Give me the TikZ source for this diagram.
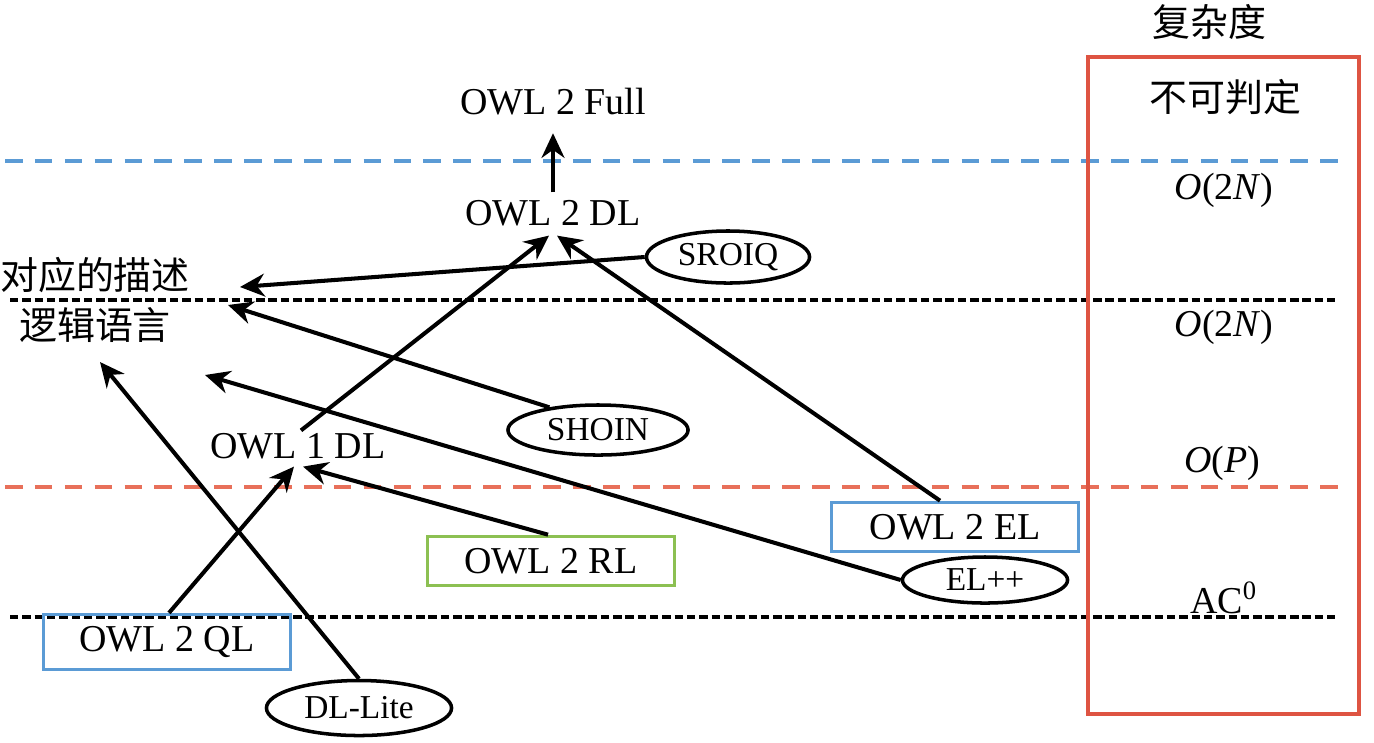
\documentclass[tikz,border=0pt]{standalone}
\usepackage{fontspec}
\setmainfont{Liberation Serif}
\newfontfamily\cjk{Noto Sans CJK SC}
\usetikzlibrary{arrows.meta,shapes.geometric}

\definecolor{lineblue}{RGB}{91,155,213}
\definecolor{linered}{RGB}{232,112,90}
\definecolor{boxred}{RGB}{222,84,66}
\definecolor{boxgreen}{RGB}{140,192,82}

\begin{document}
\begin{tikzpicture}[x=0.01cm, y=-0.01cm,
    txt/.style={font=\fontsize{10.8}{13}\selectfont, inner sep=2pt},
    zh/.style={font=\cjk\fontsize{10.8}{14}\selectfont, inner sep=0pt},
    oval/.style={draw, ellipse, line width=1pt, inner sep=0pt, font=\fontsize{9.5}{11}\selectfont},
    level/.style={draw, line width=1pt, minimum width=2.47cm, minimum height=0.48cm, font=\fontsize{10.8}{13}\selectfont},
    arr/.style={-{Stealth[length=7pt,width=6.5pt]}, line width=1.15pt}]
            \useasboundingbox (0, 0) rectangle (1374, 742);

            \draw[lineblue, line width=0.9pt, dash pattern=on 5pt off 3.5pt] (5, 161) -- (1340, 161);
            \draw[line width=1.1pt, dash pattern=on 2.4pt off 1.1pt] (10, 300) -- (1338, 300);
            \draw[linered, line width=0.9pt, dash pattern=on 5pt off 3.5pt] (5, 487) -- (1340, 487);
            \draw[line width=1.1pt, dash pattern=on 2.4pt off 1.1pt] (10, 617) -- (1338, 617);

            \draw[boxred, line width=1pt] (1088, 57) rectangle (1359, 714);
            \node[zh] (cplx) at (1209, 22) {复杂度};
            \node[zh] (undec) at (1225, 97) {不可判定};
            \node[txt] (c1) at (1224, 190) {\textit{O}(2\textit{N})};
            \node[txt] (c2) at (1224, 327) {\textit{O}(2\textit{N})};
            \node[txt] (c3) at (1222, 463) {\textit{O}(\textit{P})};
            \node[txt] (c4) at (1224, 598) {AC\textsuperscript{0}};

            \node[zh, align=center] (lang) at (95, 300) {对应的描述\\逻辑语言};
            \coordinate (lang1) at (240, 287);
            \coordinate (lang2) at (228, 305);
            \coordinate (lang3) at (205, 375);
            \coordinate (lang4) at (100, 362);

            \node[txt] (full) at (553, 102) {OWL 2 Full};
            \node[txt] (dl2) at (553, 213) {OWL 2 DL};
            \node[txt] (dl1) at (298, 446) {OWL 1 DL};

            \node[level, draw=lineblue] (el) at (955, 527) {OWL 2 EL};
            \node[level, draw=boxgreen] (rl) at (551, 561) {OWL 2 RL};
            \node[level, draw=lineblue] (ql) at (167, 642) {OWL 2 QL};

            \node[oval, minimum width=1.63cm, minimum height=0.52cm] (sroiq) at (728, 257) {SROIQ};
            \node[oval, minimum width=1.8cm, minimum height=0.5cm] (shoin) at (598, 430) {SHOIN};
            \node[oval, minimum width=1.65cm, minimum height=0.46cm] (elpp) at (985, 580) {EL++};
            \node[oval, minimum width=1.85cm, minimum height=0.55cm] (dllite) at (359, 708) {DL-Lite};

            \draw[arr] (dl2.north) -- ([yshift=-0.1cm]full.south);
            \draw[arr] ([xshift=0.03cm, yshift=-0.05cm]dl1.north) -- ([xshift=-0.04cm, yshift=-0.02cm]dl2.south);
            \draw[arr] ([xshift=-0.15cm]el.north) -- ([xshift=0.04cm, yshift=-0.02cm]dl2.south);
            \draw[arr] ([xshift=0.02cm]ql.north) -- ([xshift=-0.04cm]dl1.south);
            \draw[arr] ([xshift=-0.03cm]rl.north) -- ([xshift=0.05cm]dl1.south);

            \draw[arr] (sroiq.west) -- (lang1);
            \draw[arr] (shoin.155) -- (lang2);
            \draw[arr] (elpp.west) -- (lang3);
            \draw[arr] (dllite.north) -- (lang4);
        \end{tikzpicture}
\end{document}
